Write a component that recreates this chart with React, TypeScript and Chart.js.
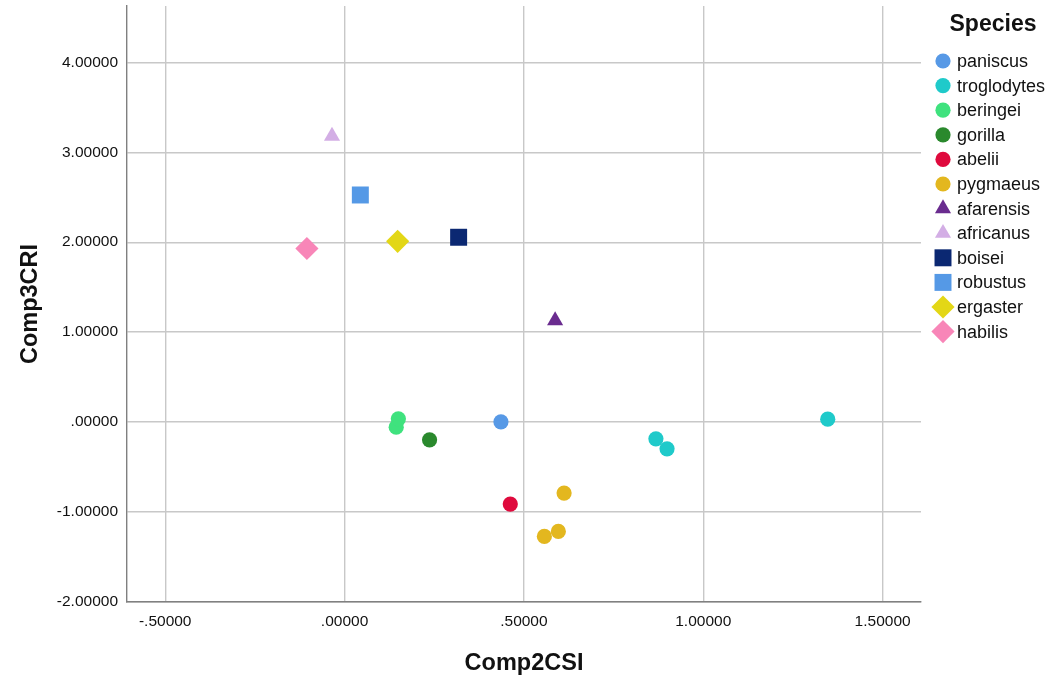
import React, { useEffect, useRef } from "react";
import { Chart, registerables } from "chart.js";
import { drawPoint } from "chart.js/helpers";

Chart.register(...registerables);

// Species shown in the legend, in legend order
const speciesNames = [
  "paniscus",
  "troglodytes",
  "beringei",
  "gorilla",
  "abelii",
  "pygmaeus",
  "afarensis",
  "africanus",
  "boisei",
  "robustus",
  "ergaster",
  "habilis",
];

// [Comp2CSI, Comp3CRI] per specimen
const paniscus = [[0.436, 0.003]];
const troglodytes = [[0.868, -0.186], [0.899, -0.297], [1.347, 0.033]];
const beringei = [[0.144, -0.056], [0.150, 0.037]];
const gorilla = [[0.237, -0.197]];
const abelii = [[0.462, -0.911]];
const pygmaeus = [[0.612, -0.789], [0.557, -1.271], [0.596, -1.215]];
const afarensis = [[0.587, 1.129]];
const africanus = [[-0.035, 3.18]];
const boisei = [[0.318, 2.055]];
const robustus = [[0.044, 2.525]];
const ergaster = [[0.148, 2.01]];
const habilis = [[-0.105, 1.93]];

const speciesPoints = [
  paniscus, troglodytes, beringei, gorilla, abelii, pygmaeus,
  afarensis, africanus, boisei, robustus, ergaster, habilis,
];

const speciesColors = [
  "#5799e6", "#1fcaca", "#3fe27e", "#2a892d", "#df0a3d", "#e3b71f",
  "#6a2c8f", "#d3aee5", "#0b2872", "#5599e6", "#e3d716", "#f886b8",
];
const speciesShapes = [
  "circle", "circle", "circle", "circle", "circle", "circle",
  "triangle", "triangle", "rect", "rect", "rectRot", "rectRot",
];
const shapeRadius: Record<string, number> = {
  circle: 7.6,
  triangle: 9.3,
  rect: 12,
  rectRot: 11.6,
};

// Axis ticks and ranges
const xTicks = [-0.5, 0, 0.5, 1, 1.5];
const yTicks = [-2, -1, 0, 1, 2, 3, 4];
const xRange = [-0.6065, 1.607];
const yRange = [-2, 4.626];

const FONT = '"Liberation Sans", Arial, Helvetica, sans-serif';

// SPSS-style number format: .50000, -1.00000
function spssFormat(v: number): string {
  let s = Math.abs(v).toFixed(5);
  if (s.startsWith("0")) s = s.slice(1);
  return (v < -1e-9 ? "-" : "") + s;
}

const speciesLegend = {
  id: "speciesLegend",
  afterDraw(chart: any) {
    const { ctx, chartArea } = chart;
    const markerX = chartArea.right + 22;
    const textX = chartArea.right + 36;
    ctx.save();
    ctx.fillStyle = "#111";
    ctx.font = `bold 23px ${FONT}`;
    ctx.textAlign = "center";
    ctx.textBaseline = "middle";
    ctx.fillText("Species", chartArea.right + 72, 25);
    ctx.font = `18px ${FONT}`;
    ctx.textAlign = "left";
    chart.data.datasets.forEach((ds: any, i: number) => {
      const y = 61 + i * 24.6;
      ctx.fillStyle = ds.backgroundColor;
      drawPoint(
        ctx,
        { pointStyle: ds.pointStyle, radius: ds.pointRadius, rotation: 0, borderWidth: 0 } as any,
        markerX,
        y
      );
      ctx.fillStyle = "#111";
      ctx.fillText(ds.label, textX, y + 1);
    });
    ctx.restore();
  },
};

export default function App() {
  const canvasRef = useRef<HTMLCanvasElement | null>(null);

  useEffect(() => {
    const canvas = canvasRef.current;
    if (!canvas) return;

    const datasets = speciesNames.map((name, i) => ({
      label: name,
      data: speciesPoints[i].map(([x, y]) => ({ x, y })),
      backgroundColor: speciesColors[i],
      borderColor: speciesColors[i],
      borderWidth: 0,
      pointStyle: speciesShapes[i],
      pointRadius: shapeRadius[speciesShapes[i]],
      pointHoverRadius: shapeRadius[speciesShapes[i]],
    }));

    const chart = new Chart(canvas, {
      type: "scatter",
      data: { datasets },
      options: {
        animation: false,
        responsive: false,
        devicePixelRatio: 1,
        layout: {
          autoPadding: false,
          padding: { top: 6, right: 132, left: 0, bottom: 0 },
        },
        plugins: {
          legend: { display: false },
          tooltip: { enabled: false },
        },
        scales: {
          x: {
            type: "linear",
            min: xRange[0],
            max: xRange[1],
            afterBuildTicks: (scale: any) => {
              scale.ticks = xTicks.map((value) => ({ value }));
            },
            afterFit: (scale: any) => {
              scale.height = 76;
              scale.paddingLeft = 0;
              scale.paddingRight = 0;
            },
            grid: {
              color: "#c8c8c8",
              lineWidth: 1.4,
              drawTicks: false,
            },
            border: { color: "#808080", width: 1.4 },
            ticks: {
              padding: 10,
              color: "#111",
              font: { family: FONT, size: 15.5 },
              maxRotation: 0,
              autoSkip: false,
              callback: (v: any) => spssFormat(Number(v)),
            },
            title: {
              display: true,
              text: "Comp2CSI",
              color: "#111",
              font: { family: FONT, size: 23.5, weight: "bold" },
              padding: { top: 0, bottom: 0 },
            },
          },
          y: {
            type: "linear",
            min: yRange[0],
            max: yRange[1],
            afterBuildTicks: (scale: any) => {
              scale.ticks = yTicks.map((value) => ({ value }));
            },
            afterFit: (scale: any) => {
              scale.width = 127;
              scale.paddingTop = 0;
              scale.paddingBottom = 0;
            },
            grid: {
              color: "#c8c8c8",
              lineWidth: 1.4,
              drawTicks: false,
            },
            border: { color: "#808080", width: 1.4 },
            ticks: {
              padding: 9,
              color: "#111",
              font: { family: FONT, size: 15.5 },
              autoSkip: false,
              callback: (v: any) => spssFormat(Number(v)),
            },
            title: {
              display: true,
              text: "Comp3CRI",
              color: "#111",
              font: { family: FONT, size: 23.5, weight: "bold" },
              padding: { top: 16, bottom: 0 },
            },
          },
        },
      },
      plugins: [speciesLegend],
    } as any);

    return () => chart.destroy();
  }, []);

  return (
    <div style={{ position: "fixed", left: 0, top: 0, width: 1053, height: 678, background: "#fff" }}>
      <canvas ref={canvasRef} width={1053} height={678} style={{ display: "block" }} />
    </div>
  );
}
